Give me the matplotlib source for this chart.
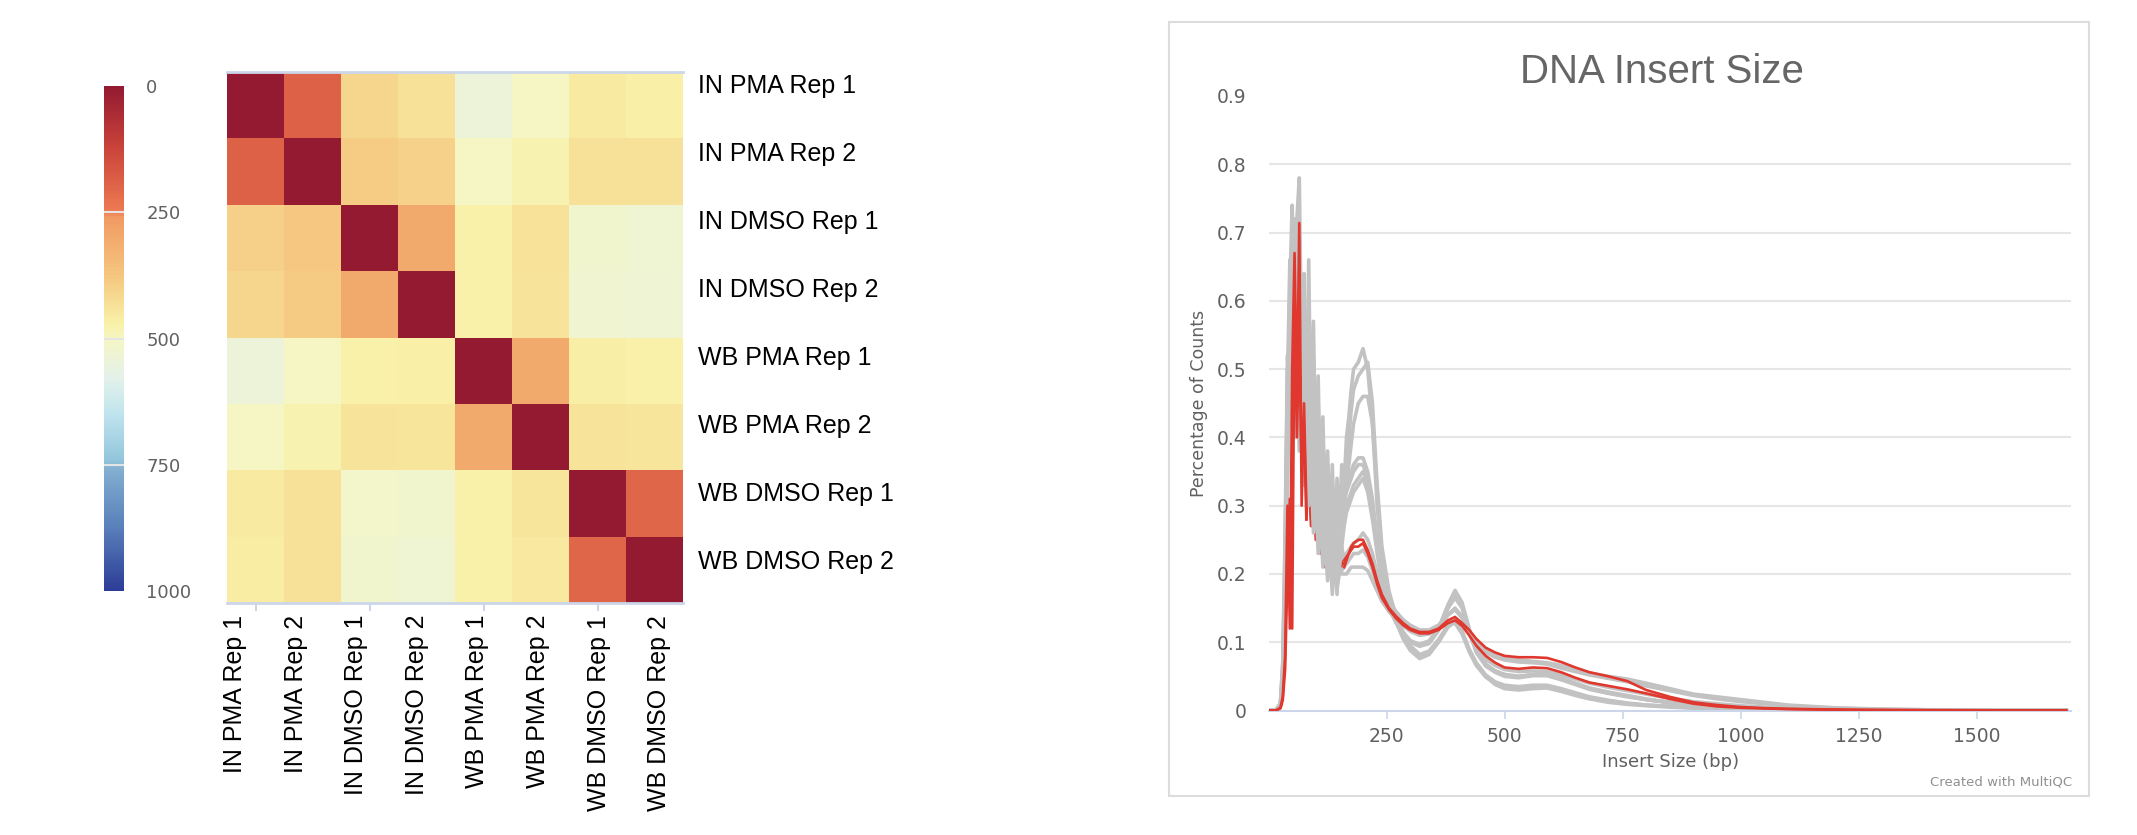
import numpy as np
import matplotlib
matplotlib.use('Agg')
import matplotlib.pyplot as plt
from matplotlib.colors import LinearSegmentedColormap, Normalize
from matplotlib.patches import Rectangle
import matplotlib.cm as cm

# ---------------- data: heatmap ----------------
samples = ['IN PMA Rep 1', 'IN PMA Rep 2', 'IN DMSO Rep 1', 'IN DMSO Rep 2',
           'WB PMA Rep 1', 'WB PMA Rep 2', 'WB DMSO Rep 1', 'WB DMSO Rep 2']
row_in_pma_1 = [0, 190, 410, 430, 540, 500, 455, 465]
row_in_pma_2 = [190, 0, 390, 400, 500, 480, 430, 432]
row_in_dmso_1 = [395, 375, 0, 300, 470, 435, 520, 530]
row_in_dmso_2 = [410, 385, 300, 0, 470, 440, 525, 535]
row_wb_pma_1 = [540, 500, 470, 468, 0, 300, 462, 470]
row_wb_pma_2 = [500, 480, 440, 445, 300, 0, 440, 445]
row_wb_dmso_1 = [455, 430, 515, 520, 470, 445, 0, 200]
row_wb_dmso_2 = [458, 432, 520, 530, 470, 450, 200, 0]
colorbar_ticks = [0, 250, 500, 750, 1000]

# ---------------- data: insert size ----------------
insert_size = [0, 15, 25, 30, 35, 40, 45, 50, 55, 60,
               65, 70, 75, 80, 85, 90, 95, 100, 105, 110,
               115, 120, 125, 130, 135, 140, 145, 150, 155, 160,
               165, 170, 175, 180, 190, 200, 210, 220, 230, 240,
               255, 270, 285, 300, 320, 340, 360, 380, 395, 410,
               425, 440, 460, 480, 500, 530, 560, 590, 620, 650,
               680, 720, 760, 800, 850, 900, 950, 1000, 1050, 1100,
               1150, 1200, 1250, 1300, 1400, 1500, 1600, 1690]

gray_1 = [0, 0, 0.01, 0.05, 0.2, 0.45, 0.62, 0.74, 0.5, 0.72,
          0.78, 0.52, 0.6, 0.42, 0.66, 0.38, 0.57, 0.34, 0.49, 0.31,
          0.43, 0.28, 0.38, 0.26, 0.36, 0.24, 0.34, 0.27, 0.36, 0.33,
          0.4, 0.43, 0.47, 0.5, 0.51, 0.53, 0.5, 0.42, 0.3, 0.22,
          0.165, 0.13, 0.105, 0.088, 0.076, 0.082, 0.1, 0.122, 0.13, 0.115,
          0.088, 0.068, 0.05, 0.038, 0.032, 0.03, 0.032, 0.033, 0.028, 0.022,
          0.017, 0.012, 0.009, 0.007, 0.005, 0.0035, 0.0025, 0.002, 0.0015, 0.001,
          0.0008, 0.0006, 0.0005, 0.0004, 0.0003, 0.0002, 0.0001, 0.0001]
gray_2 = [0, 0, 0.008, 0.04, 0.16, 0.38, 0.56, 0.7, 0.58, 0.46,
          0.68, 0.55, 0.64, 0.45, 0.58, 0.4, 0.52, 0.36, 0.45, 0.33,
          0.4, 0.3, 0.36, 0.27, 0.33, 0.25, 0.31, 0.26, 0.33, 0.3,
          0.36, 0.4, 0.44, 0.47, 0.49, 0.5, 0.51, 0.45, 0.33, 0.24,
          0.175, 0.138, 0.112, 0.095, 0.082, 0.087, 0.104, 0.125, 0.128, 0.112,
          0.086, 0.066, 0.049, 0.04, 0.035, 0.033, 0.035, 0.035, 0.03, 0.024,
          0.019, 0.014, 0.01, 0.008, 0.006, 0.004, 0.003, 0.0022, 0.0016, 0.0012,
          0.0009, 0.0007, 0.0005, 0.0004, 0.0003, 0.0002, 0.0001, 0.0001]
gray_3 = [0, 0, 0.01, 0.06, 0.22, 0.48, 0.66, 0.6, 0.72, 0.5,
          0.62, 0.46, 0.55, 0.4, 0.5, 0.36, 0.45, 0.33, 0.41, 0.3,
          0.37, 0.27, 0.34, 0.25, 0.31, 0.23, 0.3, 0.26, 0.31, 0.3,
          0.33, 0.34, 0.35, 0.36, 0.37, 0.37, 0.35, 0.31, 0.25, 0.2,
          0.16, 0.135, 0.115, 0.102, 0.095, 0.1, 0.12, 0.155, 0.176, 0.158,
          0.12, 0.088, 0.068, 0.058, 0.052, 0.05, 0.053, 0.053, 0.047, 0.04,
          0.033, 0.027, 0.022, 0.017, 0.012, 0.008, 0.006, 0.0045, 0.0035, 0.0025,
          0.002, 0.0015, 0.0012, 0.001, 0.0007, 0.0005, 0.0003, 0.0002]
gray_4 = [0, 0, 0.006, 0.04, 0.15, 0.35, 0.52, 0.66, 0.55, 0.62,
          0.5, 0.58, 0.44, 0.52, 0.4, 0.47, 0.35, 0.42, 0.31, 0.38,
          0.29, 0.35, 0.26, 0.32, 0.24, 0.3, 0.25, 0.3, 0.28, 0.31,
          0.32, 0.33, 0.34, 0.35, 0.36, 0.36, 0.34, 0.3, 0.24, 0.19,
          0.155, 0.132, 0.113, 0.1, 0.094, 0.098, 0.117, 0.15, 0.168, 0.152,
          0.116, 0.085, 0.065, 0.056, 0.05, 0.048, 0.051, 0.051, 0.045, 0.038,
          0.031, 0.025, 0.02, 0.016, 0.011, 0.0075, 0.0055, 0.004, 0.003, 0.0022,
          0.0018, 0.0014, 0.0011, 0.0009, 0.0006, 0.0004, 0.0003, 0.0002]
gray_5 = [0, 0, 0.01, 0.07, 0.26, 0.52, 0.45, 0.6, 0.42, 0.55,
          0.44, 0.6, 0.4, 0.48, 0.36, 0.43, 0.32, 0.39, 0.29, 0.35,
          0.26, 0.32, 0.23, 0.29, 0.21, 0.27, 0.17, 0.26, 0.24, 0.27,
          0.29, 0.3, 0.31, 0.32, 0.33, 0.34, 0.32, 0.28, 0.23, 0.185,
          0.15, 0.128, 0.112, 0.102, 0.097, 0.102, 0.12, 0.15, 0.165, 0.15,
          0.118, 0.088, 0.067, 0.058, 0.053, 0.05, 0.052, 0.052, 0.046, 0.039,
          0.032, 0.026, 0.021, 0.016, 0.012, 0.008, 0.006, 0.0042, 0.0032, 0.0024,
          0.0019, 0.0015, 0.0011, 0.0009, 0.0006, 0.0004, 0.0003, 0.0002]
gray_6 = [0, 0, 0.008, 0.05, 0.18, 0.4, 0.58, 0.5, 0.64, 0.45,
          0.56, 0.4, 0.5, 0.36, 0.44, 0.32, 0.4, 0.29, 0.36, 0.26,
          0.33, 0.24, 0.3, 0.22, 0.28, 0.2, 0.26, 0.21, 0.24, 0.22,
          0.23, 0.235, 0.24, 0.245, 0.25, 0.26, 0.25, 0.23, 0.2, 0.178,
          0.16, 0.145, 0.133, 0.125, 0.118, 0.118, 0.125, 0.14, 0.148, 0.135,
          0.115, 0.1, 0.09, 0.083, 0.078, 0.074, 0.072, 0.07, 0.066, 0.06,
          0.055, 0.05, 0.046, 0.04, 0.032, 0.024, 0.02, 0.016, 0.012, 0.008,
          0.006, 0.004, 0.003, 0.002, 0.001, 0.0006, 0.0004, 0.0003]
gray_7 = [0, 0, 0.006, 0.04, 0.14, 0.33, 0.5, 0.62, 0.48, 0.58,
          0.42, 0.52, 0.36, 0.45, 0.32, 0.39, 0.28, 0.35, 0.25, 0.31,
          0.22, 0.28, 0.2, 0.25, 0.18, 0.23, 0.19, 0.21, 0.2, 0.2,
          0.2, 0.205, 0.21, 0.21, 0.21, 0.21, 0.205, 0.19, 0.175, 0.16,
          0.145, 0.133, 0.124, 0.116, 0.11, 0.112, 0.122, 0.14, 0.15, 0.138,
          0.113, 0.09, 0.075, 0.066, 0.06, 0.057, 0.058, 0.057, 0.052, 0.046,
          0.04, 0.034, 0.029, 0.024, 0.018, 0.013, 0.01, 0.007, 0.005, 0.0038,
          0.0028, 0.002, 0.0015, 0.0011, 0.0007, 0.0005, 0.0003, 0.0002]
gray_8 = [0, 0, 0.01, 0.07, 0.24, 0.5, 0.42, 0.55, 0.4, 0.5,
          0.38, 0.47, 0.33, 0.41, 0.3, 0.36, 0.26, 0.32, 0.23, 0.29,
          0.21, 0.26, 0.19, 0.24, 0.17, 0.22, 0.18, 0.2, 0.205, 0.21,
          0.215, 0.22, 0.225, 0.23, 0.23, 0.235, 0.225, 0.205, 0.185, 0.167,
          0.152, 0.14, 0.13, 0.122, 0.116, 0.116, 0.124, 0.14, 0.148, 0.137,
          0.115, 0.095, 0.085, 0.078, 0.074, 0.071, 0.07, 0.068, 0.062, 0.057,
          0.052, 0.047, 0.042, 0.036, 0.029, 0.022, 0.017, 0.013, 0.01, 0.007,
          0.005, 0.0035, 0.0025, 0.0018, 0.001, 0.0006, 0.0004, 0.0003]
gray_9 = [0, 0, 0.009, 0.05, 0.19, 0.42, 0.6, 0.52, 0.68, 0.5,
          0.6, 0.48, 0.55, 0.41, 0.5, 0.37, 0.47, 0.34, 0.43, 0.3,
          0.39, 0.27, 0.35, 0.25, 0.32, 0.24, 0.3, 0.25, 0.3, 0.29,
          0.33, 0.36, 0.39, 0.42, 0.45, 0.46, 0.46, 0.42, 0.32, 0.23,
          0.17, 0.135, 0.11, 0.093, 0.08, 0.085, 0.102, 0.125, 0.132, 0.116,
          0.09, 0.07, 0.052, 0.042, 0.037, 0.035, 0.037, 0.037, 0.032, 0.026,
          0.02, 0.015, 0.011, 0.008, 0.006, 0.004, 0.003, 0.0023, 0.0017, 0.0012,
          0.0009, 0.0007, 0.0005, 0.0004, 0.0003, 0.0002, 0.0001, 0.0001]
gray_10 = [0, 0, 0.007, 0.045, 0.17, 0.4, 0.55, 0.64, 0.5, 0.6,
           0.47, 0.56, 0.42, 0.5, 0.38, 0.44, 0.33, 0.4, 0.29, 0.36,
           0.27, 0.33, 0.24, 0.3, 0.22, 0.28, 0.23, 0.28, 0.27, 0.29,
           0.3, 0.31, 0.32, 0.33, 0.34, 0.35, 0.335, 0.295, 0.24, 0.19,
           0.155, 0.132, 0.114, 0.102, 0.096, 0.1, 0.118, 0.152, 0.17, 0.153,
           0.117, 0.087, 0.067, 0.057, 0.052, 0.049, 0.052, 0.052, 0.046, 0.039,
           0.032, 0.026, 0.021, 0.016, 0.012, 0.008, 0.006, 0.0043, 0.0033, 0.0024,
           0.0019, 0.0015, 0.0011, 0.0009, 0.0006, 0.0004, 0.0003, 0.0002]
red_1 = [0, 0, 0.004, 0.02, 0.08, 0.3, 0.12, 0.5, 0.67, 0.45,
         0.714, 0.3, 0.45, 0.3, 0.38, 0.28, 0.33, 0.26, 0.31, 0.24,
         0.29, 0.22, 0.27, 0.21, 0.25, 0.2, 0.23, 0.22, 0.22, 0.21,
         0.22, 0.23, 0.24, 0.245, 0.25, 0.25, 0.235, 0.215, 0.19, 0.17,
         0.15, 0.138, 0.128, 0.12, 0.115, 0.115, 0.12, 0.132, 0.137, 0.128,
         0.118, 0.105, 0.092, 0.085, 0.08, 0.078, 0.078, 0.077, 0.071, 0.063,
         0.056, 0.05, 0.043, 0.03, 0.02, 0.012, 0.008, 0.005, 0.0035, 0.0025,
         0.002, 0.0015, 0.001, 0.0008, 0.0005, 0.0003, 0.0002, 0.0002]
red_2 = [0, 0, 0.003, 0.015, 0.06, 0.2, 0.31, 0.12, 0.6, 0.4,
         0.55, 0.35, 0.42, 0.28, 0.36, 0.27, 0.32, 0.25, 0.3, 0.23,
         0.27, 0.21, 0.25, 0.2, 0.24, 0.19, 0.22, 0.21, 0.21, 0.22,
         0.225, 0.23, 0.235, 0.24, 0.24, 0.245, 0.23, 0.21, 0.185, 0.165,
         0.148, 0.135, 0.125, 0.118, 0.113, 0.113, 0.118, 0.128, 0.132, 0.124,
         0.11, 0.095, 0.08, 0.07, 0.063, 0.061, 0.063, 0.062, 0.056, 0.048,
         0.041, 0.036, 0.031, 0.025, 0.017, 0.01, 0.006, 0.004, 0.003, 0.002,
         0.0015, 0.001, 0.0008, 0.0006, 0.0004, 0.0003, 0.0002, 0.0001]
gray_series = [gray_1, gray_2, gray_9, gray_3, gray_4, gray_10, gray_5,
               gray_6, gray_7, gray_8]
red_series = [red_1, red_2]
x_ticks = [250, 500, 750, 1000, 1250, 1500]
y_ticks = [0, 0.1, 0.2, 0.3, 0.4, 0.5, 0.6, 0.7, 0.8, 0.9]

# ---------------- figure ----------------
W, H = 2137, 835
fig = plt.figure(figsize=(W / 100, H / 100), dpi=100)
fig.patch.set_facecolor('white')


def fx(px):
    return px / W


def fy(py):
    return 1 - py / H


cmap = LinearSegmentedColormap.from_list('hc', [
    (0.0, '#931a30'), (0.12, '#c9433a'), (0.249, '#ee7b52'), (0.26, '#f19a63'),
    (0.375, '#f5c67f'), (0.47, '#f9f1a8'), (0.5, '#f6f6c4'), (0.58, '#e2f1ea'),
    (0.65, '#c0e4ee'), (0.74, '#93c6dc'), (0.76, '#82aed0'), (0.87, '#5a82bb'),
    (1.0, '#2c3d97')])
norm = Normalize(vmin=0, vmax=1000)

# heatmap
hm_l, hm_r, hm_t, hm_b = 227, 683, 72, 603
ax = fig.add_axes([fx(hm_l), fy(hm_b), fx(hm_r - hm_l), (hm_b - hm_t) / H])
mat = np.array([row_in_pma_1, row_in_pma_2, row_in_dmso_1, row_in_dmso_2,
                row_wb_pma_1, row_wb_pma_2, row_wb_dmso_1, row_wb_dmso_2])
n = len(samples)
ax.pcolormesh(np.arange(n + 1), np.arange(n + 1), mat, cmap=cmap, norm=norm)
ax.set_xlim(0, n)
ax.set_ylim(n, 0)
ax.yaxis.tick_right()
ax.set_yticks(0.166 + 1.026 * np.arange(n))
ax.set_yticklabels(samples, fontsize=18, family='Liberation Sans', color='black')
ax.tick_params(axis='y', length=0, pad=11)
ax.set_xticks([0.5, 2.5, 4.5, 6.5])
ax.set_xticklabels([])
ax.tick_params(axis='x', length=6, width=1.5, color='#ccd6eb')
for s in ['left', 'right']:
    ax.spines[s].set_visible(False)
for s in ['top', 'bottom']:
    ax.spines[s].set_color('#ccd6eb')
    ax.spines[s].set_linewidth(2)
xt = ax.get_xaxis_transform()
for i, lab in enumerate(samples):
    ax.text(0.14 + 1.063 * i, -0.022, lab, transform=xt, rotation=90,
            ha='center', va='top', fontsize=18, family='Liberation Sans', color='black')

# colorbar
cax = fig.add_axes([fx(104), fy(591), fx(20), (591 - 86) / H])
cb = fig.colorbar(cm.ScalarMappable(norm=norm, cmap=cmap), cax=cax)
cb.outline.set_visible(False)
cb.set_ticks(colorbar_ticks)
cax.set_ylim(1000, 0)
cax.tick_params(length=0, pad=16, labelsize=13, labelcolor='#606060')
for v in colorbar_ticks[1:-1]:
    cax.axhline(v, color='#e4e4e4', lw=1.5)

# right panel border
fig.patches.append(Rectangle((fx(1169), fy(796)), fx(2089 - 1169), (796 - 22) / H,
                             transform=fig.transFigure, fill=False,
                             edgecolor='#dcdcdc', lw=1.5))

lax = fig.add_axes([fx(1268.6), fy(710.5), fx(2071 - 1268.6), (710.5 - 96) / H])
for v in y_ticks[1:-1]:
    lax.axhline(v, color='#e6e6e6', lw=1.5, zorder=0)
# red is partly hidden by the grey in the noisy 80-160 bp region
hid_a, hid_b = 13, 29
for s in red_series:
    lax.plot(insert_size[hid_a:hid_b + 1], s[hid_a:hid_b + 1], color='#e0382e',
             lw=2.0, zorder=1.5, solid_joinstyle='round')
for s in gray_series:
    lax.plot(insert_size, s, color='#c2c2c2', lw=2.6, zorder=2, solid_joinstyle='round')
for s in red_series:
    lax.plot(insert_size[:hid_a + 1], s[:hid_a + 1], color='#e0382e', lw=1.9,
             zorder=3, solid_joinstyle='round')
    lax.plot(insert_size[hid_b:], s[hid_b:], color='#e0382e', lw=1.9, zorder=3,
             solid_joinstyle='round')
lax.set_xlim(0, 1700)
lax.set_ylim(0, 0.9)
lax.set_yticks(y_ticks)
lax.set_yticklabels(['0'] + ['%.1f' % v for v in y_ticks[1:]])
lax.set_xticks(x_ticks)
lax.set_xticklabels([str(v) for v in x_ticks])
for s in ['left', 'right', 'top']:
    lax.spines[s].set_visible(False)
lax.spines['bottom'].set_color('#ccd6eb')
lax.spines['bottom'].set_linewidth(1.5)
lax.tick_params(axis='x', length=6, width=1.2, color='#ccd6eb', pad=6,
                labelsize=13.5, labelcolor='#606060')
lax.tick_params(axis='y', length=0, pad=16, labelsize=13.5, labelcolor='#606060')

fig.text(fx(1662), fy(72), 'DNA Insert Size', ha='center', va='center',
         fontsize=29, color='#666666', family='Liberation Sans')
fig.text(fx(1199), fy(403), 'Percentage of Counts', rotation=90, ha='center',
         va='center', fontsize=12.5, color='#606060')
fig.text(fx(1671), fy(762), 'Insert Size (bp)', ha='center', va='center',
         fontsize=13, color='#606060')
fig.text(fx(2072), fy(782), 'Created with MultiQC', ha='right', va='center',
         fontsize=9.5, color='#909090')

fig.savefig('out.png', dpi=100, facecolor='white')
